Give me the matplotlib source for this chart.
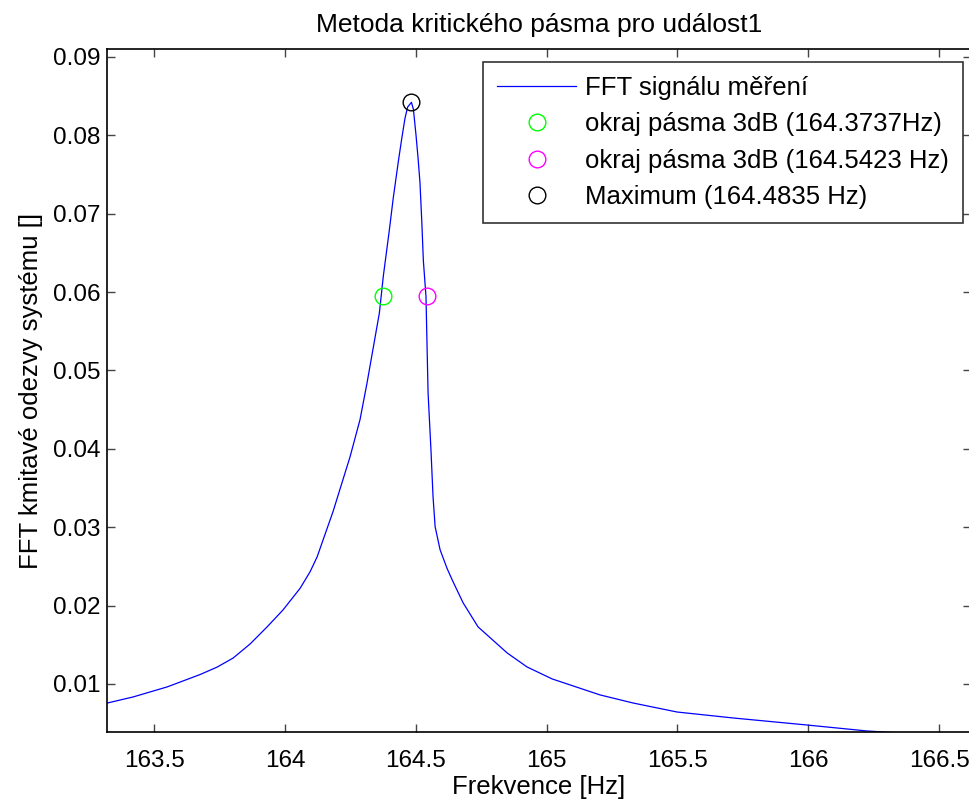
import matplotlib
matplotlib.use("Agg")
import matplotlib.pyplot as plt

plt.rcParams['font.family'] = ['Liberation Sans', 'DejaVu Sans']

# FFT magnitude of the measured response around the resonance
freq_hz = [163.322, 163.420, 163.550, 163.676, 163.741, 163.802, 163.867, 163.932,
           163.993, 164.058, 164.096, 164.123, 164.146, 164.184, 164.249, 164.287,
           164.314, 164.361, 164.376, 164.399, 164.414, 164.434, 164.447, 164.459,
           164.469, 164.4835, 164.491, 164.501, 164.509, 164.516, 164.523, 164.529,
           164.539, 164.547, 164.558, 164.566, 164.574, 164.593, 164.620,
           164.643, 164.681, 164.738, 164.849, 164.925, 165.021, 165.204, 165.330,
           165.498, 165.712, 165.995, 166.224, 166.351, 166.500, 166.620]
amplitude = [0.00757, 0.00834, 0.00962, 0.01120, 0.01215, 0.01330, 0.01510, 0.01728,
             0.01945, 0.02220, 0.02430, 0.02620, 0.02839, 0.03200, 0.03899, 0.04372,
             0.04844, 0.05734, 0.06202, 0.06790, 0.07200, 0.07680, 0.07970, 0.08220,
             0.08360, 0.08420, 0.08330, 0.08000, 0.07700, 0.07400, 0.06900, 0.06400,
             0.05946, 0.04716, 0.03989, 0.03388, 0.03005, 0.02711, 0.02470,
             0.02300, 0.02034, 0.01728, 0.01396, 0.01217, 0.01064, 0.00860, 0.00757,
             0.00642, 0.00566, 0.00476, 0.00400, 0.00374, 0.00370, 0.00368]

# Band edges (-3 dB) and maximum
edge_low_f, edge_low_a = 164.3737, 0.0595
edge_high_f, edge_high_a = 164.5423, 0.0595
peak_f, peak_a = 164.4835, 0.0843

x_ticks = [163.5, 164, 164.5, 165, 165.5, 166, 166.5]
x_tick_labels = ['163.5', '164', '164.5', '165', '165.5', '166', '166.5']
y_ticks = [0.01, 0.02, 0.03, 0.04, 0.05, 0.06, 0.07, 0.08, 0.09]
y_tick_labels = ['0.01', '0.02', '0.03', '0.04', '0.05', '0.06', '0.07', '0.08', '0.09']

fig = plt.figure(figsize=(9.70, 8.05), dpi=100)
ax = fig.add_axes([0.1108, 0.0907, 0.8898, 0.8484])

ax.plot(freq_hz, amplitude, color='#0000ff', lw=0.9, label='FFT signálu měření')
ax.plot([edge_low_f], [edge_low_a], 'o', mfc='none', mec='#00ff00', ms=12, mew=1.0,
        label='okraj pásma 3dB (164.3737Hz)')
ax.plot([edge_high_f], [edge_high_a], 'o', mfc='none', mec='#ff00ff', ms=12, mew=1.0,
        label='okraj pásma 3dB (164.5423 Hz)')
ax.plot([peak_f], [peak_a], 'o', mfc='none', mec='black', ms=12, mew=1.0,
        label='Maximum (164.4835 Hz)')

ax.set_xlim(163.322, 166.62)
ax.set_ylim(0.00387, 0.0910)
ax.set_xticks(x_ticks)
ax.set_xticklabels(x_tick_labels)
ax.set_yticks(y_ticks)
ax.set_yticklabels(y_tick_labels)
ax.tick_params(direction='in', length=6, width=1.0, color='#444444',
               top=True, right=True, labelsize=17.5)
ax.tick_params(axis='x', pad=13)
ax.tick_params(axis='y', pad=5)
for sp in ax.spines.values():
    sp.set_linewidth(1.2)
    sp.set_color('black')

ax.set_title('Metoda kritického pásma pro událost1', fontsize=19, pad=12)
ax.set_xlabel('Frekvence [Hz]', fontsize=18.5, labelpad=2)
ax.set_ylabel('FFT kmitavé odezvy systému []', fontsize=18.5, labelpad=7)

leg = ax.legend(loc='upper right', bbox_to_anchor=(963 / 970, (805 - 62) / 805),
                bbox_transform=fig.transFigure, fontsize=18.5, frameon=True,
                fancybox=False, shadow=False, handlelength=3.07, handletextpad=0.35,
                labelspacing=0.48, borderpad=0.55, borderaxespad=0)
leg.get_frame().set_edgecolor('black')
leg.get_frame().set_linewidth(1.2)

fig.savefig('out.png', dpi=100)
